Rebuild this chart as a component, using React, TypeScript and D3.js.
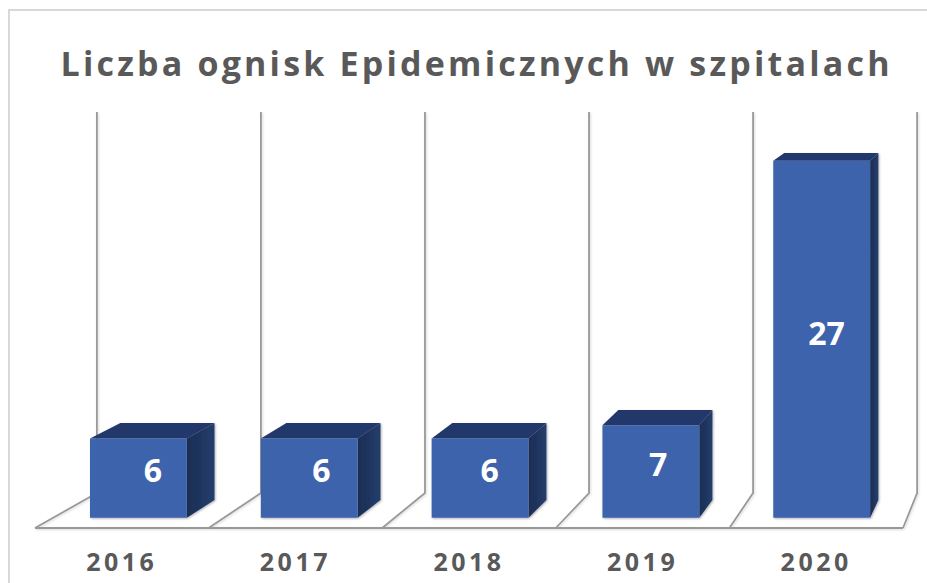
import React from "react";
import * as d3 from "d3";

const years = ["2016", "2017", "2018", "2019", "2020"];
const values = [6, 6, 6, 7, 27];
const axisMax = 30;
const title = "Liczba ognisk Epidemicznych w szpitalach";

const W = 927;
const H = 583;
// perspective: vanishing point and depth scale factors
const VP = { x: 1160, y: -108 };
const S_FLOOR_FRONT = 1;
const S_BAR_FRONT = 0.984;
const S_BAR_BACK = 0.956;
const S_WALL = 0.945;

const x = d3
  .scaleBand<string>()
  .domain(years)
  .range([35, 903])
  .paddingInner(0.433)
  .paddingOuter(0.2165);
const y = d3.scaleLinear().domain([0, axisMax]).range([528, 528 - 30 * 13.44]);

function proj(px: number, py: number, s: number): [number, number] {
  return [VP.x + (px - VP.x) * s, VP.y + (py - VP.y) * s];
}
const pts = (arr: [number, number][]) => arr.map((p) => p.join(",")).join(" ");

export default function App() {
  const step = x.step();
  const r0 = x.range()[0];
  const boundaries = d3.range(years.length + 1).map((i) => r0 + i * step);
  const gridColor = "#999999";
  const y0 = y(0);
  const yTop = y(axisMax);

  return (
    <svg
      width={W}
      height={H}
      style={{ position: "absolute", left: 0, top: 0, background: "#fff" }}
      fontFamily="'Open Sans', 'DejaVu Sans', sans-serif"
    >
      <defs>
        <filter id="sh" x="-10%" y="-10%" width="130%" height="130%">
          <feDropShadow dx="1" dy="1" stdDeviation="1.2" floodColor="#000" floodOpacity="0.3" />
        </filter>
        <filter id="lsh" x="-10%" y="-10%" width="130%" height="130%">
          <feDropShadow dx="1" dy="1" stdDeviation="0.8" floodColor="#000" floodOpacity="0.15" />
        </filter>
        <linearGradient id="side" x1="0" x2="1" y1="0" y2="0">
          <stop offset="0" stopColor="#1b2d52" />
          <stop offset="1" stopColor="#243e6c" />
        </linearGradient>
      </defs>
      <rect x={9} y={10} width={W + 20} height={H + 20} fill="none" stroke="#d9d9d9" strokeWidth={2} />
      <text
        x={475}
        y={76}
        textAnchor="middle"
        fontSize={34}
        fontWeight="bold"
        fill="#595959"
        textLength={829}
        lengthAdjust="spacing"
      >
        {title}
      </text>

      {/* back wall and floor gridlines */}
      <g filter="url(#lsh)">
        {boundaries.map((bx, i) => {
          const top = proj(bx, yTop, S_WALL);
          const back = proj(bx, y0, S_WALL);
          const front = proj(bx, y0, S_FLOOR_FRONT);
          return (
            <polyline
              key={i}
              points={pts([top, back, front])}
              fill="none"
              stroke={gridColor}
              strokeWidth={1.8}
            />
          );
        })}
        <line
          x1={proj(boundaries[0], y0, 1)[0]}
          x2={proj(boundaries[boundaries.length - 1], y0, 1)[0]}
          y1={y0}
          y2={y0}
          stroke={gridColor}
          strokeWidth={1.8}
        />
      </g>

      {/* bars */}
      {years.map((yr, i) => {
        const xl = x(yr)!;
        const xr = xl + x.bandwidth();
        const yt = y(values[i]);
        const ftl = proj(xl, yt, S_BAR_FRONT);
        const ftr = proj(xr, yt, S_BAR_FRONT);
        const fbl = proj(xl, y0, S_BAR_FRONT);
        const fbr = proj(xr, y0, S_BAR_FRONT);
        const btl = proj(xl, yt, S_BAR_BACK);
        const btr = proj(xr, yt, S_BAR_BACK);
        const bbr = proj(xr, y0, S_BAR_BACK);
        const sMid = (S_BAR_FRONT + S_BAR_BACK) / 2;
        const lab = proj(xl + x.bandwidth() / 2, (yt + y0) / 2, sMid);
        return (
          <g key={yr}>
            <g filter="url(#sh)">
              <polygon points={pts([ftr, btr, bbr, fbr])} fill="url(#side)" />
              <polygon points={pts([ftl, btl, btr, ftr])} fill="#22386a" />
              <polygon points={pts([ftl, ftr, fbr, fbl])} fill="#3c63ac" />
            </g>
            <text
              x={lab[0]}
              y={lab[1]}
              textAnchor="middle"
              dominantBaseline="central"
              fontSize={32}
              fontWeight="bold"
              fill="#ffffff"
            >
              {values[i]}
            </text>
          </g>
        );
      })}

      {/* category labels */}
      {years.map((yr) => (
        <text
          key={yr}
          x={x(yr)! + x.bandwidth() / 2}
          y={571}
          textAnchor="middle"
          fontSize={25}
          fontWeight="bold"
          fill="#595959"
          letterSpacing={3.5}
        >
          {yr}
        </text>
      ))}
    </svg>
  );
}
